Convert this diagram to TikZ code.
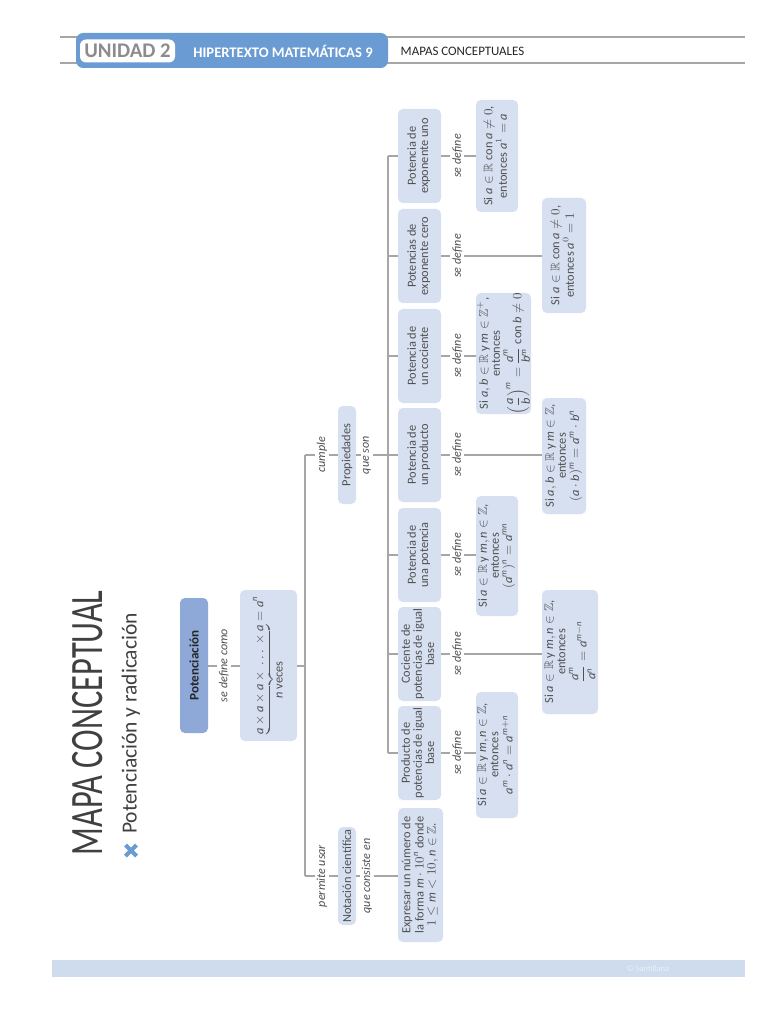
\documentclass[tikz,border=0pt]{standalone}
\usepackage{amsmath,amssymb}
\usepackage{graphicx}
\usepackage{fontspec}
\setmainfont{Carlito}
\definecolor{boxblue}{RGB}{214,224,241}
\definecolor{potblue}{RGB}{142,169,216}
\definecolor{hdrblue}{RGB}{106,155,210}
\definecolor{footblue}{RGB}{207,220,238}
\definecolor{linegray}{RGB}{166,166,166}
\definecolor{txtgray}{RGB}{80,80,80}
\definecolor{titlegray}{RGB}{64,64,64}
\newcommand{\rtx}[1]{\rotatebox{90}{\begin{tabular}{@{}c@{}}#1\end{tabular}}}
\newcommand{\mv}[1]{\mathit{#1}}
\begin{document}
\begin{tikzpicture}[x=0.25mm,y=-0.25mm,
  conn/.style={draw=linegray,line width=0.5mm},
  bx/.style={fill=boxblue,rounded corners=1.2mm,inner sep=0pt,text=txtgray,font=\fontsize{8.8}{8.6}\selectfont},
  sz/.style 2 args={minimum width=#1*0.25mm,minimum height=#2*0.25mm},
  lbl/.style={fill=white,inner sep=1.5pt,text=txtgray,font=\fontsize{8.6}{9}\selectfont\itshape},
]
\useasboundingbox (0,0) rectangle (768,1024);
\fill[white] (0,0) rectangle (768,1024);
% header
\draw[linegray,line width=0.6mm] (60,37) -- (745,37);
\draw[linegray,line width=0.6mm] (60,63) -- (745,63);
\node[fill=hdrblue,rounded corners=1.8mm,sz={312}{35},inner sep=0pt] (hdr) at (232,50.5) {};
\node[fill=white,rounded corners=1.5mm,sz={95}{23},inner sep=0pt,text=black!45,font=\fontsize{14.8}{15}\selectfont\bfseries] (unidad) at (127.5,51) {UNIDAD 2};
\node[text=white,inner sep=0pt,font=\fontsize{10.4}{11}\selectfont\bfseries] (hiper) at (283,51) {HIPERTEXTO MATEMÁTICAS 9};
\node[text=black!85,inner sep=0pt,font=\fontsize{9.2}{10}\selectfont] (mapas) at (462.5,51) {MAPAS CONCEPTUALES};
% footer
\node[fill=footblue,sz={693}{17},inner sep=0pt] (foot) at (398.5,968.5) {};
\node[text=white!55!footblue,inner sep=0pt,font=\fontsize{6}{7}\selectfont] (santi) at (648,968.5) {© Santillana};
% title
\node[text=titlegray,inner sep=0pt,font=\fontsize{33}{33}\selectfont] (title) at (88,723) {\rotatebox{90}{\scalebox{0.70}[1]{MAPA CONCEPTUAL}}};
\node[text=titlegray,inner sep=0pt,font=\fontsize{15.3}{16}\selectfont] (sub) at (131,723.5) {\rotatebox{90}{Potenciación y radicación}};
\draw[hdrblue,line width=1mm] (125.5,845) -- (136.5,856) (125.5,856) -- (136.5,845);
% main nodes
\node[bx,fill=potblue,sz={28}{135},text=black!85,font=\fontsize{9.3}{10}\selectfont\bfseries] (pot) at (194,665.5) {\rotatebox{90}{Potenciación}};
\node[bx,sz={57}{151}] (def) at (268.5,665.5) {\rotatebox{90}{$\displaystyle\underbrace{\mv{a\times a\times a}\times\ \ldots\ \times \mv{a}}_{\textstyle \mv{n}\text{ veces}}=\mv{a}^{\mv{n}}$}};
\node[bx,sz={18}{98}] (prop) at (347,455) {\rotatebox{90}{Propiedades}};
\node[bx,sz={18}{98}] (nota) at (347,876) {\rotatebox{90}{Notación científica}};
\node[bx,sz={45}{134}] (expr) at (420.5,875) {\rtx{Expresar un número de\\la forma $\mv{m}\cdot 10^{\mv{n}}$ donde\\$1\leq \mv{m}<10, \mv{n}\in\mathbb{Z}$.}};
% properties
\node[bx,sz={43}{94}] (p1) at (419.5,753) {\rtx{Producto de\\potencias de igual\\base}};
\node[bx,sz={43}{94}] (p2) at (419.5,654) {\rtx{Cociente de\\potencias de igual\\base}};
\node[bx,sz={43}{94}] (p3) at (419.5,555) {\rtx{Potencia de\\una potencia}};
\node[bx,sz={43}{94}] (p4) at (419.5,455) {\rtx{Potencia de\\un producto}};
\node[bx,sz={43}{94}] (p5) at (419.5,356) {\rtx{Potencia de\\un cociente}};
\node[bx,sz={43}{94}] (p6) at (419.5,256) {\rtx{Potencias de\\exponente cero}};
\node[bx,sz={43}{94}] (p7) at (419.5,156) {\rtx{Potencia de\\exponente uno}};
% results
\node[bx,sz={42}{126}] (r1) at (497,755) {\rtx{Si $\mv{a}\in\mathbb{R}$ y $\mv{m},\mv{n}\in\mathbb{Z}$,\\entonces\\$\mv{a}^{\mv{m}}\cdot \mv{a}^{\mv{n}}=\mv{a}^{\mv{m+n}}$}};
\node[bx,sz={56}{124}] (r2) at (570,652) {\rtx{Si $\mv{a}\in\mathbb{R}$ y $\mv{m},\mv{n}\in\mathbb{Z}$,\\entonces\\$\dfrac{\mv{a}^{\mv{m}}}{\mv{a}^{\mv{n}}}=\mv{a}^{\mv{m-n}}$}};
\node[bx,sz={42}{120}] (r3) at (497,556) {\rtx{Si $\mv{a}\in\mathbb{R}$ y $\mv{m},\mv{n}\in\mathbb{Z}$,\\entonces\\$(\mv{a}^{\mv{m}})^{\mv{n}}=\mv{a}^{\mv{mn}}$}};
\node[bx,sz={44}{116}] (r4) at (564,456) {\rtx{Si $\mv{a},\mv{b}\in\mathbb{R}$ y $\mv{m}\in\mathbb{Z}$,\\entonces\\$(\mv{a}\cdot \mv{b})^{\mv{m}}=\mv{a}^{\mv{m}}\cdot \mv{b}^{\mv{n}}$}};
\node[bx,sz={55}{115}] (r5) at (503.5,353.5) {\rtx{Si $\mv{a},\mv{b}\in\mathbb{R}$ y $\mv{m}\in\mathbb{Z}^+$,\\entonces\\$\left(\dfrac{\mv{a}}{\mv{b}}\right)^{\mv{m}}=\dfrac{\mv{a}^{\mv{m}}}{\mv{b}^{\mv{m}}}$ con $\mv{b}\neq 0$}};
\node[bx,sz={44}{115}] (r6) at (564,255.5) {\rtx{Si $\mv{a}\in\mathbb{R}$ con $\mv{a}\neq 0$,\\entonces $\mv{a}^0=1$}};
\node[bx,sz={42}{112}] (r7) at (497,156) {\rtx{Si $\mv{a}\in\mathbb{R}$ con $\mv{a}\neq 0$,\\entonces $\mv{a}^1=\mv{a}$}};
% junctions
\coordinate (j1) at (305,665.5);
\coordinate (j1top) at (305,455);
\coordinate (j1bot) at (305,876);
\coordinate (j2top) at (388,156);
\coordinate (j2bot) at (388,753);
% connectors
\draw[conn] (pot.east) -- (def.west);
\draw[conn] (def.east) -- (j1);
\draw[conn] (j1top) -- (j1bot);
\draw[conn] (j1top) -- (prop.west);
\draw[conn] (j1bot) -- (nota.west);
\draw[conn] (prop.east) -- (prop.east -| j2top);
\draw[conn] (j2top) -- (j2bot);
\foreach \p in {p1,p2,p3,p4,p5,p6,p7} {\draw[conn] (\p.west -| j2top) -- (\p.west);}
\draw[conn] (nota.east) -- (nota.east -| expr.west);
\draw[conn] (p1.east) -- (p1.east -| r1.west);
\draw[conn] (p2.east) -- (p2.east -| r2.west);
\draw[conn] (p3.east) -- (p3.east -| r3.west);
\draw[conn] (p4.east) -- (p4.east -| r4.west);
\draw[conn] (p5.east) -- (p5.east -| r5.west);
\draw[conn] (p6.east) -- (p6.east -| r6.west);
\draw[conn] (p7.east) -- (p7.east -| r7.west);
% labels
\node[lbl] (l0) at (224,665.5) {\rotatebox{90}{se define como}};
\node[lbl] (l1) at (322,455) {\rotatebox{90}{cumple}};
\node[lbl] (l2) at (367,455) {\rotatebox{90}{que son}};
\node[lbl] (l3) at (322,876) {\rotatebox{90}{permite usar}};
\node[lbl] (l4) at (367,876) {\rotatebox{90}{que consiste en}};
\foreach \p in {p1,p2,p3,p4,p5,p6,p7} {\path (\p.east) ++(16,0) node[lbl] {\rotatebox{90}{se define}};}
\end{tikzpicture}
\end{document}
